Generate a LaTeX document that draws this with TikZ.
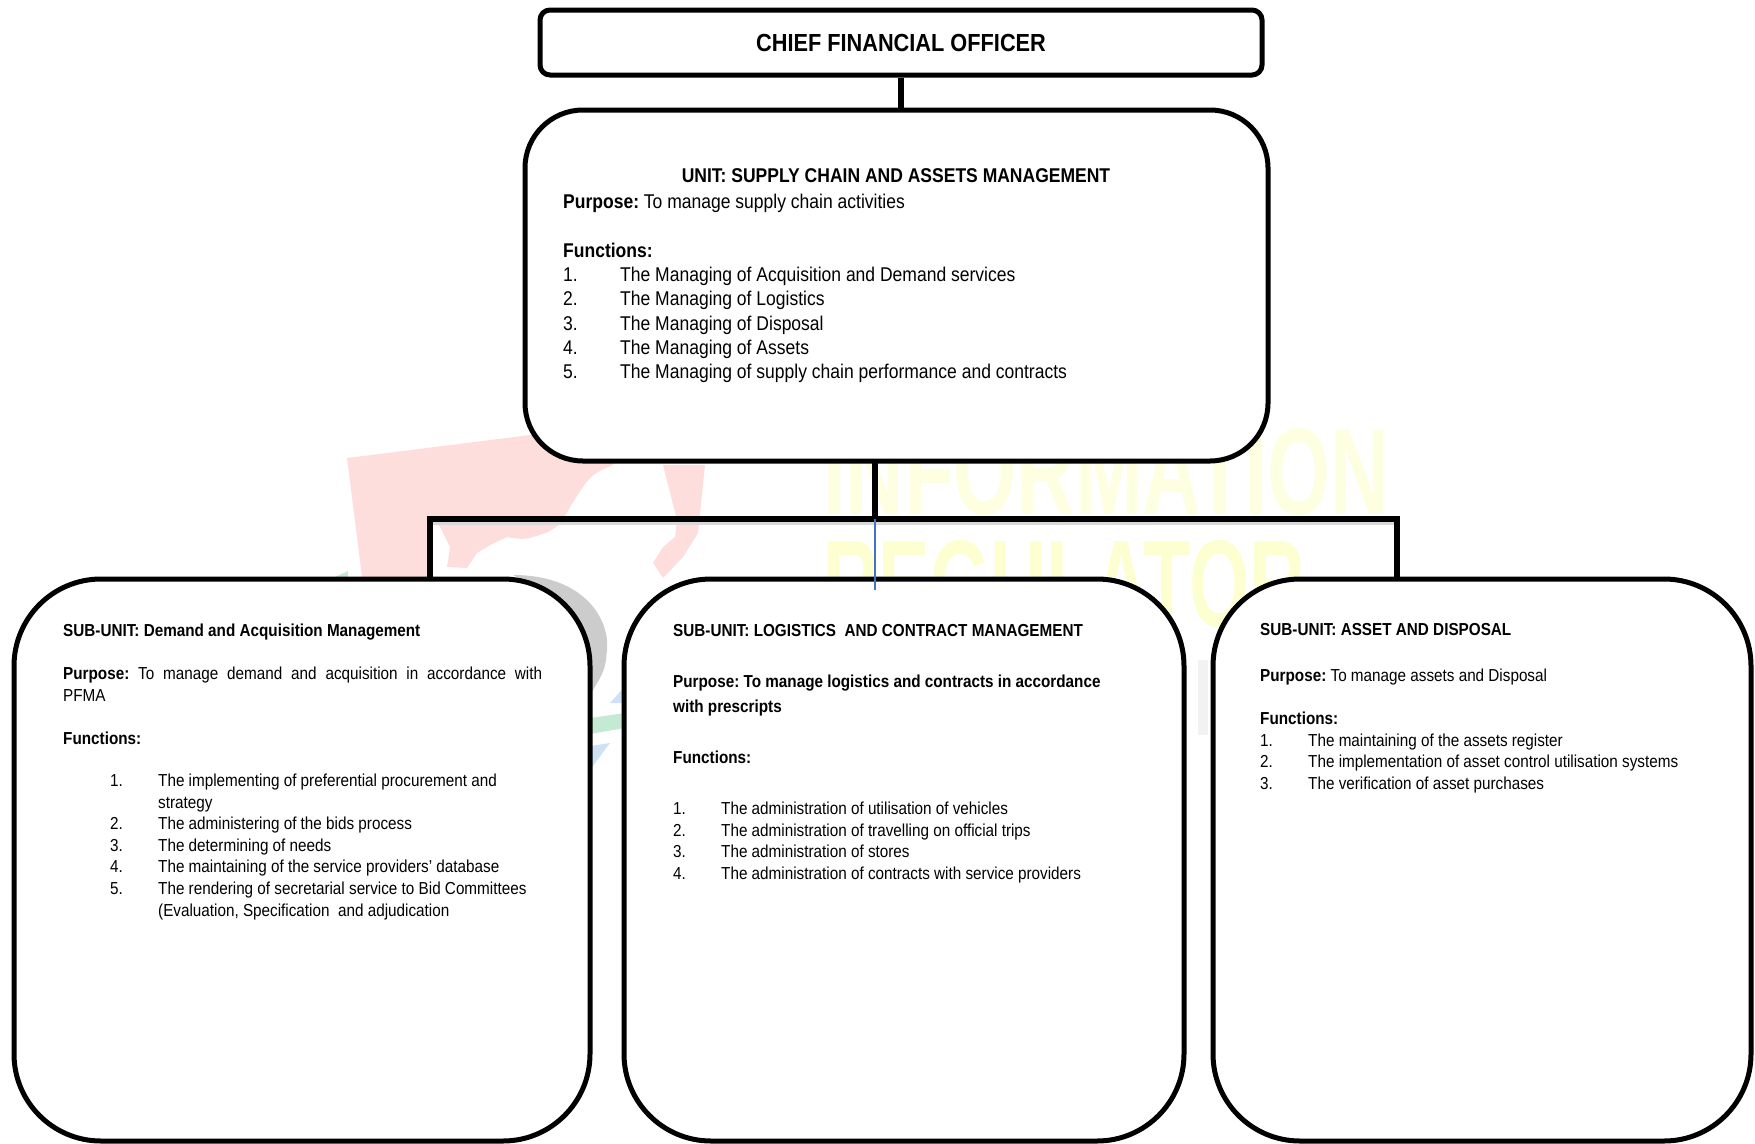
\documentclass[tikz,border=0pt]{standalone}
\usepackage{graphicx}
\usepackage{fontspec}
\setmainfont[FakeStretch=0.88]{Liberation Sans}
\frenchspacing
\newcommand{\fnitem}[3][48pt]{\makebox[#1][l]{#2}#3}
\definecolor{wmred}{HTML}{FDDEDC}
\definecolor{wmyellow}{HTML}{FDFFD0}
\definecolor{wmpale}{HTML}{FDFFE0}
\definecolor{wmgray}{HTML}{CCCCCC}
\definecolor{wmgreen}{HTML}{C4EAD4}
\definecolor{wmblue}{HTML}{CFE2F5}
\definecolor{blueline}{HTML}{4472C4}
\begin{document}
\begin{tikzpicture}[x=1pt,y=-1pt,
    cfobox/.style={draw,line width=5pt,rounded corners=10pt,fill=white,minimum width=722pt,minimum height=65pt,inner sep=0pt},
    unitbox/.style={draw,line width=5pt,rounded corners=58pt,fill=white,minimum width=743pt,minimum height=351pt,inner sep=0pt},
    subbox/.style={draw,line width=5pt,rounded corners=87pt,fill=white,minimum height=562pt,inner sep=0pt},
    conn/.style={line width=5.5pt},
    unittext/.style={anchor=north west,inner sep=0pt,align=left,font=\fontsize{19.9}{24.3}\selectfont},
    subtext/.style={anchor=north west,inner sep=0pt,align=left,font=\fontsize{17.35}{21.55}\selectfont}]
    \useasboundingbox (0,0) rectangle (1755,1143);
    % watermark
    \fill[wmred] (347,458) -- (610,425) -- (613,465) .. controls (590,475) .. (570,507) .. controls (560,525) .. (548,532) .. controls (525,540) .. (507,537) .. controls (490,545) .. (477,553) -- (467,568) -- (447,567) -- (450,547) -- (440,527) -- (430,515) -- (430,585) -- (363,585) -- cycle;
    \fill[wmred] (663,465) -- (705,465) -- (698,533) -- (683,557) -- (663,578) -- (653,563) -- (663,547) -- (675,537) -- (677,520) -- cycle;
    \fill[wmgreen] (333,578) -- (348,571) -- (348,582) -- (333,582) -- cycle;
    \fill[wmgreen] (590,718) -- (625,713) -- (625,728) -- (590,734) -- cycle;
    \fill[wmblue] (610,703) -- (625,686) -- (625,703) -- cycle;
    \fill[wmblue] (590,770) -- (610,743) -- (590,746) -- cycle;
    \fill[wmgray] (513,575) .. controls (585,575) and (610,620) .. (607,650) .. controls (605,670) .. (590,695) -- (560,600) -- cycle;
    \fill[black!5] (1198,660) rectangle (1208,735);
    \node[wmpale,anchor=north west,inner sep=0pt] (wminfo) at (823,428) {\resizebox{565pt}{86pt}{\bfseries INFORMATION}};
    \node[wmyellow,anchor=north west,inner sep=0pt] (wmreg) at (823,540) {\resizebox{482pt}{86pt}{\bfseries REGULATOR}};
    % boxes
    \node[cfobox] (cfo) at (901,42.5) {\fontsize{24.7}{30}\selectfont\bfseries CHIEF FINANCIAL OFFICER};
    \node[unitbox] (unit) at (896.5,285.5) {};
    \node[subbox,minimum width=576pt] (suba) at (302,860) {};
    \node[subbox,minimum width=560pt] (subb) at (904,860) {};
    \node[subbox,minimum width=538pt] (subc) at (1482,860) {};
    % connectors
    \coordinate (unitout) at (875,461);
    \coordinate (barmid) at (875,519);
    \coordinate (barleft) at (430,519);
    \coordinate (barright) at (1397,519);
    \coordinate (blueend) at (875,590);
    \draw[black!15,line width=3pt] ([yshift=-4pt]barleft) -- ([yshift=-4pt]barright);
    \draw[conn] (cfo.south) -- (cfo.south |- unit.north);
    \draw[conn] (unitout) -- (barmid);
    \draw[conn,line join=miter] (barleft |- suba.north) -- (barleft) -- (barright) -- (barright |- subc.north);
    \draw[blueline,line width=1.2pt] (barmid) -- (blueend);
    % text of the unit
    \node[unittext,anchor=north] (unittitle) at (896,168.5) {\bfseries UNIT: SUPPLY CHAIN AND ASSETS MANAGEMENT};
    \node[unittext] (unitlabel) at (563,194) {%
        \textbf{Purpose:} To manage supply chain activities\\
        \mbox{}\\
        \textbf{Functions:}\\
        \fnitem[57pt]{1.}{The Managing of Acquisition and Demand services}\\
        \fnitem[57pt]{2.}{The Managing of Logistics}\\
        \fnitem[57pt]{3.}{The Managing of Disposal}\\
        \fnitem[57pt]{4.}{The Managing of Assets}\\
        \fnitem[57pt]{5.}{The Managing of supply chain performance and contracts}};
    % text of the sub-units
    \node[subtext] (subalabel) at (63,624) {%
        \textbf{SUB-UNIT: Demand and Acquisition Management}\\
        \mbox{}\\
        \makebox[479pt][s]{\textbf{Purpose:} To manage demand and acquisition in accordance with}\\
        PFMA\\
        \mbox{}\\
        \textbf{Functions:}};
    \node[subtext] (subalist) at (110,774) {%
        \fnitem{1.}{The implementing of preferential procurement and}\\
        \fnitem{}{strategy}\\
        \fnitem{2.}{The administering of the bids process}\\
        \fnitem{3.}{The determining of needs}\\
        \fnitem{4.}{The maintaining of the service providers’ database}\\
        \fnitem{5.}{The rendering of secretarial service to Bid Committees}\\
        \fnitem{}{(Evaluation, Specification\ \ and adjudication}};
    \node[subtext] (subbtitle) at (673,624) {\textbf{SUB-UNIT: LOGISTICS\ \ AND CONTRACT MANAGEMENT}};
    \node[subtext,font=\fontsize{17.35}{24.5}\selectfont] (subbpurpose) at (673,675) {%
        \textbf{Purpose: To manage logistics and contracts in accordance}\\
        \textbf{with prescripts}};
    \node[subtext] (subbfunc) at (673,751) {\textbf{Functions:}};
    \node[subtext] (subblist) at (673,802) {%
        \fnitem{1.}{The administration of utilisation of vehicles}\\
        \fnitem{2.}{The administration of travelling on official trips}\\
        \fnitem{3.}{The administration of stores}\\
        \fnitem{4.}{The administration of contracts with service providers}};
    \node[subtext] (subctitle) at (1260,623) {\textbf{SUB-UNIT: ASSET AND DISPOSAL}};
    \node[subtext] (subclabel) at (1260,669) {%
        \textbf{Purpose:} To manage assets and Disposal\\
        \mbox{}\\
        \textbf{Functions:}\\
        \fnitem{1.}{The maintaining of the assets register}\\
        \fnitem{2.}{The implementation of asset control utilisation systems}\\
        \fnitem{3.}{The verification of asset purchases}};
\end{tikzpicture}
\end{document}
